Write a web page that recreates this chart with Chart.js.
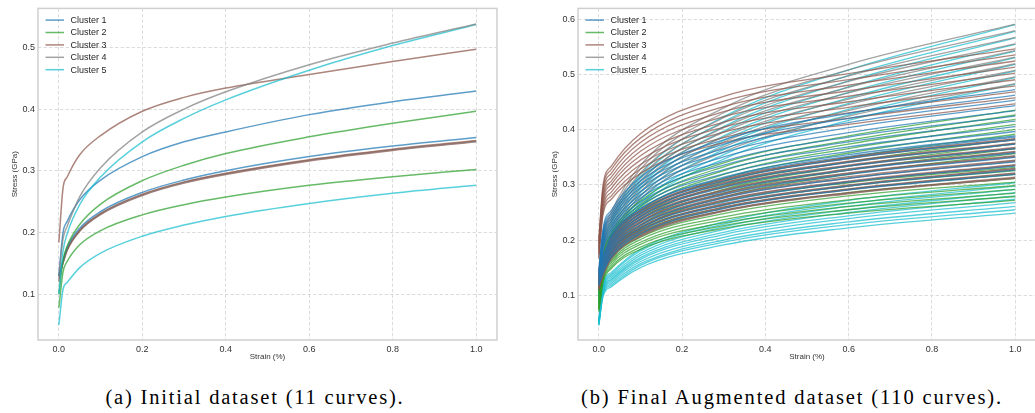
<!DOCTYPE html>
<html><head><meta charset="utf-8">
<script src="https://cdn.jsdelivr.net/npm/chart.js@4/dist/chart.umd.min.js"></script>
<style>
html,body{margin:0;padding:0;background:#fff;width:1035px;height:413px;overflow:hidden;}
body{position:relative;}
canvas{position:absolute;top:0;}
#cA{left:0;} #cB{left:540px;}
.cap{position:absolute;top:386px;font-family:"Liberation Serif","Times New Roman",serif;font-size:19px;line-height:22px;color:#000;white-space:nowrap;}
</style></head><body>
<canvas id="cA" width="505" height="370"></canvas>
<canvas id="cB" width="500" height="370"></canvas>
<div class="cap" id="capA">(a) Initial dataset (11 curves).</div>
<div class="cap" id="capB">(b) Final Augmented dataset (110 curves).</div>
<script>
// ---------------- data ----------------
const clusterNames = ['Cluster 1', 'Cluster 2', 'Cluster 3', 'Cluster 4', 'Cluster 5'];
const xTicks = [0.0, 0.2, 0.4, 0.6, 0.8, 1.0];
const yTicksInitial = [0.1, 0.2, 0.3, 0.4, 0.5];
const yTicksAugmented = [0.1, 0.2, 0.3, 0.4, 0.5, 0.6];

// (a) initial dataset: strain grid and 11 curves
const strainInitial = [0, 0.01, 0.02, 0.05, 0.1, 0.2, 0.3, 0.4, 0.6, 0.8, 1.0];
const initialClusters = [4, 5, 3, 1, 2, 1, 3, 4, 3, 2, 5];
const initialCurves = [
  [0.130, 0.190, 0.210, 0.258, 0.305, 0.363, 0.400, 0.428, 0.472, 0.507, 0.538],
  [0.100, 0.170, 0.198, 0.245, 0.290, 0.347, 0.385, 0.415, 0.463, 0.503, 0.537],
  [0.184, 0.272, 0.290, 0.326, 0.357, 0.3965, 0.419, 0.434, 0.456, 0.477, 0.497],
  [0.130, 0.200, 0.218, 0.253, 0.285, 0.323, 0.347, 0.363, 0.391, 0.412, 0.4295],
  [0.100, 0.155, 0.178, 0.213, 0.246, 0.284, 0.309, 0.328, 0.355, 0.377, 0.3965],
  [0.130, 0.155, 0.176, 0.207, 0.234, 0.265, 0.285, 0.300, 0.323, 0.340, 0.354],
  [0.120, 0.152, 0.173, 0.204, 0.231, 0.262, 0.282, 0.296, 0.318, 0.335, 0.349],
  [0.128, 0.151, 0.172, 0.203, 0.230, 0.261, 0.281, 0.295, 0.317, 0.334, 0.348],
  [0.125, 0.150, 0.171, 0.202, 0.229, 0.260, 0.280, 0.294, 0.316, 0.333, 0.347],
  [0.078, 0.136, 0.153, 0.180, 0.203, 0.2285, 0.245, 0.2575, 0.2765, 0.2905, 0.302],
  [0.050, 0.108, 0.119, 0.143, 0.1665, 0.194, 0.212, 0.226, 0.247, 0.2635, 0.2767]
];

// (b) augmented dataset: strain grid and 110 curves
const strainAugmented = [0, 0.01, 0.03, 0.1, 0.3, 0.6, 1.0];
const augmentedClusters = [
  1,1,1,1,1,1,1,1,1,1, 3,3,3,3,3,3,3,3,3,3, 4,4,4,4,4,4,4,4,4,4, 3,3,3,3,3,3,3,3,3,3,
  1,1,1,1,1,1,1,1,1,1, 2,2,2,2,2,2,2,2,2,2, 2,2,2,2,2,2,2,2,2,2, 3,3,3,3,3,3,3,3,3,3,
  4,4,4,4,4,4,4,4,4,4, 5,5,5,5,5,5,5,5,5,5, 5,5,5,5,5,5,5,5,5,5
];
const augmentedCurves = [
  // blue (lower bundle)
  [0.117,0.140,0.169,0.211,0.257,0.291,0.319],
  [0.120,0.143,0.173,0.216,0.263,0.298,0.327],
  [0.123,0.146,0.178,0.221,0.269,0.305,0.334],
  [0.126,0.150,0.182,0.226,0.276,0.312,0.342],
  [0.129,0.153,0.186,0.231,0.282,0.319,0.350],
  [0.131,0.157,0.190,0.237,0.288,0.327,0.358],
  [0.134,0.160,0.194,0.242,0.295,0.334,0.366],
  [0.137,0.164,0.198,0.247,0.301,0.341,0.374],
  [0.140,0.167,0.203,0.252,0.307,0.348,0.382],
  [0.143,0.171,0.207,0.257,0.314,0.355,0.389],
  // brown (bundle)
  [0.108,0.137,0.167,0.208,0.254,0.286,0.314],
  [0.111,0.140,0.172,0.213,0.260,0.293,0.322],
  [0.113,0.144,0.176,0.218,0.266,0.300,0.330],
  [0.116,0.147,0.180,0.223,0.273,0.307,0.337],
  [0.119,0.150,0.184,0.228,0.279,0.315,0.345],
  [0.121,0.154,0.188,0.234,0.285,0.322,0.353],
  [0.124,0.157,0.192,0.239,0.291,0.329,0.361],
  [0.127,0.160,0.196,0.244,0.298,0.336,0.368],
  [0.129,0.164,0.200,0.249,0.304,0.343,0.376],
  [0.132,0.167,0.205,0.254,0.310,0.350,0.384],
  // gray (bundle)
  [0.115,0.136,0.167,0.207,0.253,0.285,0.313],
  [0.118,0.139,0.171,0.212,0.259,0.292,0.321],
  [0.121,0.143,0.175,0.217,0.265,0.299,0.329],
  [0.124,0.146,0.179,0.222,0.272,0.306,0.336],
  [0.127,0.149,0.183,0.227,0.278,0.313,0.344],
  [0.129,0.153,0.187,0.233,0.284,0.321,0.352],
  [0.132,0.156,0.191,0.238,0.290,0.328,0.360],
  [0.135,0.159,0.195,0.243,0.297,0.335,0.367],
  [0.138,0.163,0.199,0.248,0.303,0.342,0.375],
  [0.141,0.166,0.204,0.253,0.309,0.349,0.383],
  // brown (bundle)
  [0.113,0.135,0.166,0.206,0.252,0.284,0.312],
  [0.115,0.138,0.170,0.211,0.258,0.291,0.320],
  [0.118,0.142,0.174,0.216,0.264,0.298,0.328],
  [0.121,0.145,0.178,0.221,0.271,0.305,0.335],
  [0.124,0.148,0.182,0.226,0.277,0.312,0.343],
  [0.126,0.152,0.186,0.232,0.283,0.320,0.351],
  [0.129,0.155,0.190,0.237,0.289,0.327,0.359],
  [0.132,0.158,0.194,0.242,0.296,0.334,0.366],
  [0.135,0.162,0.198,0.247,0.302,0.341,0.374],
  [0.138,0.165,0.202,0.252,0.308,0.348,0.382],
  // blue (upper)
  [0.117,0.180,0.208,0.257,0.312,0.352,0.387],
  [0.120,0.184,0.213,0.263,0.320,0.361,0.397],
  [0.123,0.189,0.218,0.269,0.328,0.369,0.406],
  [0.126,0.193,0.223,0.276,0.336,0.378,0.416],
  [0.129,0.198,0.228,0.282,0.343,0.387,0.425],
  [0.131,0.202,0.234,0.288,0.351,0.395,0.435],
  [0.134,0.207,0.239,0.295,0.359,0.404,0.444],
  [0.137,0.211,0.244,0.301,0.366,0.413,0.454],
  [0.140,0.216,0.249,0.307,0.374,0.421,0.463],
  [0.143,0.220,0.254,0.314,0.382,0.430,0.473],
  // green (upper)
  [0.090,0.140,0.173,0.221,0.278,0.319,0.357],
  [0.092,0.143,0.177,0.227,0.285,0.327,0.366],
  [0.094,0.146,0.181,0.232,0.292,0.334,0.375],
  [0.097,0.150,0.186,0.238,0.299,0.342,0.383],
  [0.099,0.153,0.190,0.243,0.306,0.350,0.392],
  [0.101,0.157,0.194,0.249,0.312,0.358,0.401],
  [0.103,0.160,0.198,0.254,0.319,0.366,0.410],
  [0.106,0.164,0.203,0.260,0.326,0.374,0.419],
  [0.108,0.167,0.207,0.265,0.333,0.381,0.427],
  [0.110,0.171,0.211,0.271,0.340,0.389,0.436],
  // green (lower)
  [0.070,0.122,0.148,0.183,0.221,0.249,0.272],
  [0.072,0.125,0.151,0.187,0.226,0.255,0.279],
  [0.074,0.128,0.155,0.192,0.231,0.261,0.285],
  [0.075,0.131,0.159,0.196,0.237,0.267,0.292],
  [0.077,0.134,0.162,0.201,0.242,0.273,0.299],
  [0.079,0.138,0.166,0.205,0.248,0.280,0.305],
  [0.081,0.141,0.169,0.210,0.253,0.286,0.312],
  [0.082,0.144,0.173,0.214,0.259,0.292,0.319],
  [0.084,0.147,0.177,0.219,0.264,0.298,0.326],
  [0.086,0.150,0.180,0.223,0.270,0.304,0.332],
  // brown (upper)
  [0.166,0.245,0.274,0.321,0.377,0.410,0.447],
  [0.170,0.251,0.280,0.329,0.386,0.421,0.458],
  [0.174,0.257,0.287,0.337,0.396,0.431,0.469],
  [0.178,0.263,0.294,0.345,0.405,0.441,0.480],
  [0.182,0.269,0.301,0.353,0.414,0.451,0.491],
  [0.186,0.275,0.307,0.361,0.424,0.461,0.503],
  [0.190,0.281,0.314,0.369,0.433,0.471,0.514],
  [0.194,0.287,0.321,0.377,0.442,0.481,0.525],
  [0.198,0.293,0.328,0.385,0.452,0.491,0.536],
  [0.202,0.299,0.334,0.393,0.461,0.502,0.547],
  // gray (upper)
  [0.117,0.171,0.205,0.275,0.360,0.425,0.484],
  [0.120,0.175,0.210,0.281,0.369,0.435,0.496],
  [0.123,0.179,0.215,0.288,0.378,0.446,0.508],
  [0.126,0.184,0.220,0.295,0.387,0.456,0.520],
  [0.129,0.188,0.225,0.302,0.396,0.467,0.532],
  [0.131,0.192,0.231,0.308,0.404,0.477,0.544],
  [0.134,0.196,0.236,0.315,0.413,0.488,0.556],
  [0.137,0.201,0.241,0.322,0.422,0.498,0.568],
  [0.140,0.205,0.246,0.329,0.431,0.509,0.580],
  [0.143,0.209,0.251,0.336,0.440,0.519,0.592],
  // cyan (upper)
  [0.090,0.153,0.194,0.261,0.347,0.417,0.483],
  [0.092,0.157,0.198,0.267,0.355,0.427,0.495],
  [0.094,0.161,0.203,0.273,0.364,0.437,0.507],
  [0.097,0.164,0.208,0.280,0.372,0.448,0.519],
  [0.099,0.168,0.213,0.286,0.381,0.458,0.531],
  [0.101,0.172,0.217,0.293,0.389,0.468,0.543],
  [0.103,0.176,0.222,0.299,0.398,0.478,0.555],
  [0.106,0.179,0.227,0.306,0.406,0.489,0.567],
  [0.108,0.183,0.232,0.312,0.415,0.499,0.579],
  [0.110,0.187,0.237,0.319,0.424,0.509,0.591],
  // cyan (lower)
  [0.045,0.097,0.115,0.150,0.191,0.222,0.249],
  [0.046,0.100,0.118,0.154,0.196,0.228,0.255],
  [0.047,0.102,0.121,0.157,0.200,0.233,0.261],
  [0.048,0.104,0.124,0.161,0.205,0.239,0.268],
  [0.049,0.107,0.127,0.165,0.210,0.244,0.274],
  [0.051,0.109,0.129,0.168,0.214,0.250,0.280],
  [0.052,0.112,0.132,0.172,0.219,0.255,0.286],
  [0.053,0.114,0.135,0.176,0.224,0.261,0.292],
  [0.054,0.116,0.138,0.180,0.229,0.266,0.298],
  [0.055,0.119,0.141,0.183,0.233,0.272,0.304]
];

// ---------------- styles ----------------
const clusterColors = [
  'rgba(31,119,180,0.72)', 'rgba(44,160,44,0.72)', 'rgba(140,86,75,0.72)',
  'rgba(127,127,127,0.72)', 'rgba(23,190,207,0.72)'
];
const SANS = '"Liberation Sans", Arial, Helvetica, sans-serif';
const TXT = '#333333';

function buildDatasets(strain, curves, clusters, width) {
  return curves.map((vals, i) => ({
    data: strain.map((x, j) => ({ x: x, y: vals[j] })),
    borderColor: clusterColors[clusters[i] - 1],
    borderWidth: width,
    pointRadius: 0,
    fill: false,
    cubicInterpolationMode: 'monotone'
  }));
}

const frameLegend = {
  id: 'frameLegend',
  afterDatasetsDraw(chart) {
    const { ctx, chartArea: a } = chart;
    ctx.save();
    ctx.strokeStyle = '#cfcfcf';
    ctx.lineWidth = 1.5;
    ctx.strokeRect(a.left, a.top, a.right - a.left, a.bottom - a.top);
    ctx.font = '9px ' + SANS;
    ctx.textBaseline = 'middle';
    ctx.textAlign = 'left';
    clusterNames.forEach((name, i) => {
      const y = a.top + 11.7 + i * 12.4;
      ctx.strokeStyle = clusterColors[i];
      ctx.lineWidth = 1.5;
      ctx.beginPath();
      ctx.moveTo(a.left + 7.5, y);
      ctx.lineTo(a.left + 26, y);
      ctx.stroke();
      ctx.fillStyle = '#262626';
      ctx.fillText(name, a.left + 32.5, y + 0.5);
    });
    ctx.restore();
  }
};

function makeOptions(yMin, yMax, yTicks, padRight) {
  const grid = { color: '#dcdcdc', lineWidth: 1, drawTicks: false };
  const border = { display: false, dash: [3.5, 2] };
  return {
    responsive: false, animation: false, devicePixelRatio: 1,
    layout: { padding: { left: 0, top: 5, right: padRight, bottom: 0 } },
    plugins: { legend: { display: false }, tooltip: { enabled: false } },
    scales: {
      x: {
        type: 'linear', min: -0.05, max: 1.05,
        afterBuildTicks: s => { s.ticks = xTicks.map(v => ({ value: v })); },
        afterFit: s => { s.height = 30; },
        grid: grid, border: border,
        ticks: { padding: 4, color: TXT, font: { family: SANS, size: 9 }, maxRotation: 0,
                 callback: v => Number(v).toFixed(1) },
        title: { display: true, text: 'Strain (%)', color: TXT,
                 font: { family: SANS, size: 8 }, padding: { top: 0, bottom: 8 } }
      },
      y: {
        type: 'linear', min: yMin, max: yMax,
        afterBuildTicks: s => { s.ticks = yTicks.map(v => ({ value: v })); },
        afterFit: s => { s.width = 38; },
        grid: grid, border: border,
        ticks: { padding: 3, color: TXT, font: { family: SANS, size: 9 },
                 callback: v => Number(v).toFixed(1) },
        title: { display: true, text: 'Stress (GPa)', color: TXT,
                 font: { family: SANS, size: 8 }, padding: { top: 10, bottom: 0 } }
      }
    }
  };
}

new Chart(document.getElementById('cA'), {
  type: 'line',
  data: { datasets: buildDatasets(strainInitial, initialCurves, initialClusters, 1.5) },
  options: makeOptions(0.0257, 0.5632, yTicksInitial, 8),
  plugins: [frameLegend]
});
new Chart(document.getElementById('cB'), {
  type: 'line',
  data: { datasets: buildDatasets(strainAugmented, augmentedCurves, augmentedClusters, 1.3) },
  options: makeOptions(0.0185, 0.6205, yTicksAugmented, 4),
  plugins: [frameLegend]
});

// captions: centre and fit to the reference widths
function placeCaption(id, centre, targetWidth) {
  const el = document.getElementById(id);
  const w0 = el.getBoundingClientRect().width;
  const size = Math.min(20.5, 19 * targetWidth / w0);
  el.style.fontSize = size.toFixed(2) + 'px';
  const w1 = el.getBoundingClientRect().width;
  const n = el.textContent.length;
  el.style.letterSpacing = Math.max(0, (targetWidth - w1) / n).toFixed(2) + 'px';
  const w2 = el.getBoundingClientRect().width;
  el.style.left = (centre - w2 / 2) + 'px';
}
placeCaption('capA', 255, 299);
placeCaption('capB', 792, 422);
</script>
</body></html>
